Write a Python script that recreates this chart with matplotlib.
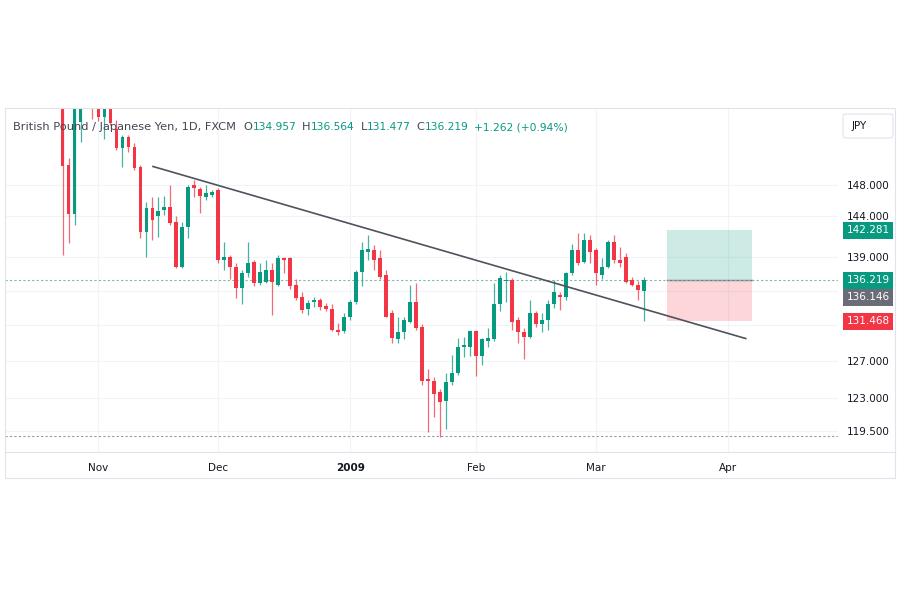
import matplotlib
matplotlib.use("Agg")
import matplotlib.pyplot as plt
from matplotlib.patches import Rectangle, FancyBboxPatch
from matplotlib.ticker import FixedLocator, FixedFormatter, NullLocator
import pandas as pd

# GBPJPY daily candles, 24 Oct 2008 .. 12 Mar 2009
opens = [160.0, 150.6, 144.3, 156.4, 161.0, 162.5, 159.0, 157.0, 159.0, 155.4,
         152.8, 154.3, 153.0, 150.3, 142.1, 145.1, 144.0, 144.8, 145.2, 143.3,
         137.8, 142.7, 148.0, 147.5, 146.5, 146.7, 147.3, 138.7, 139.0, 137.8,
         135.3, 137.1, 138.4, 135.9, 136.0, 137.5, 135.7, 138.9, 138.9, 135.7,
         134.3, 132.9, 133.7, 133.9, 133.2, 132.9, 130.5, 130.3, 132.0, 133.7,
         137.2, 139.6, 139.9, 138.9, 136.9, 132.4, 129.4, 130.2, 131.4, 133.7,
         130.8, 125.0, 124.8, 123.6, 122.6, 124.7, 125.7, 128.6, 128.6, 130.3,
         127.5, 129.2, 129.4, 133.4, 136.1, 136.3, 131.6, 130.2, 129.7, 132.4,
         131.1, 131.6, 133.4, 134.5, 134.3, 137.1, 139.9, 138.4, 141.1, 139.9,
         136.9, 137.8, 140.9, 138.6, 139.0, 136.3, 135.7, 134.957]
highs = [161.5, 151.5, 160.5, 162.0, 164.0, 163.5, 160.0, 160.0, 160.0, 156.6,
         154.6, 154.6, 153.5, 150.6, 145.8, 146.5, 146.5, 146.6, 148.0, 144.0,
         143.3, 148.0, 148.6, 147.7, 148.0, 147.4, 147.6, 140.9, 139.3, 138.3,
         137.5, 140.9, 138.7, 138.3, 138.7, 138.3, 139.3, 139.0, 139.0, 136.4,
         134.9, 133.9, 134.3, 134.2, 133.6, 133.4, 131.3, 132.4, 133.9, 137.5,
         140.9, 141.7, 140.5, 139.9, 137.5, 132.8, 132.0, 132.0, 135.7, 135.9,
         131.1, 126.1, 125.2, 123.9, 125.7, 127.7, 129.6, 129.7, 130.5, 130.5,
         129.6, 130.7, 135.9, 136.9, 137.2, 136.5, 131.9, 130.7, 133.9, 132.6,
         132.4, 133.9, 136.3, 134.9, 137.2, 140.6, 141.9, 141.9, 141.7, 140.1,
         138.9, 141.1, 141.7, 140.2, 139.5, 136.6, 136.1, 136.564]
lows = [139.3, 140.7, 143.0, 153.6, 159.0, 156.8, 156.5, 154.1, 155.9, 152.6,
        150.3, 152.3, 149.9, 141.3, 139.0, 141.1, 141.5, 144.2, 143.0, 137.7,
        137.7, 141.3, 146.5, 144.4, 146.1, 146.5, 138.3, 137.5, 136.4, 134.2,
        133.4, 136.6, 135.5, 135.7, 135.9, 132.2, 135.5, 137.1, 135.2, 133.9,
        132.4, 132.2, 133.1, 132.8, 132.6, 130.3, 129.9, 130.1, 131.6, 133.4,
        135.5, 138.7, 137.5, 136.4, 131.9, 129.0, 129.0, 129.4, 131.3, 130.5,
        124.4, 119.4, 121.0, 118.9, 119.7, 124.4, 125.5, 127.4, 127.5, 125.3,
        126.6, 128.6, 129.2, 132.6, 133.7, 130.5, 129.0, 127.2, 129.6, 130.8,
        130.2, 130.5, 133.0, 132.8, 133.9, 136.9, 138.1, 138.3, 138.3, 135.7,
        136.4, 137.7, 138.3, 137.8, 135.9, 135.5, 133.9, 131.477]
closes = [150.5, 144.3, 159.5, 160.8, 162.5, 159.2, 157.0, 159.0, 156.2, 152.8,
          154.3, 153.0, 150.2, 142.1, 145.1, 143.6, 144.7, 145.2, 143.2, 137.8,
          142.7, 147.7, 147.6, 146.6, 147.0, 147.1, 138.7, 139.0, 137.8, 135.3,
          137.1, 138.3, 135.9, 137.2, 137.5, 136.0, 138.9, 138.6, 135.5, 134.2,
          132.8, 133.6, 133.9, 133.1, 132.9, 130.5, 130.2, 132.0, 133.7, 137.2,
          139.9, 140.0, 138.7, 136.6, 132.0, 129.6, 130.2, 131.6, 133.7, 130.7,
          124.8, 124.8, 123.4, 122.5, 124.7, 125.7, 128.6, 128.8, 130.3, 127.5,
          129.4, 129.6, 133.4, 136.5, 136.3, 131.4, 130.2, 129.7, 132.4, 131.1,
          131.6, 133.4, 134.8, 134.3, 137.1, 139.9, 138.3, 141.1, 139.6, 137.1,
          137.8, 140.9, 138.7, 138.3, 136.0, 135.7, 135.1, 136.219]

price_ticks = [119.5, 123, 127, 131, 135, 139, 144, 148]
price_tick_labels = ["119.500", "123.000", "127.000", "", "", "139.000", "144.000", "148.000"]
month_names = ["Nov", "Dec", "2009", "Feb", "Mar", "Apr"]

# trend line and long position tool
trend_bars = [15.1, 114.0]
trend_prices = [150.4, 129.5]
pos_bars = [100.9, 115.1]
take_profit, entry, stop_loss = 142.281, 136.219, 131.468
lower_line = 119.0

GREEN = "#089981"
RED = "#f23645"
TEXT = "#131722"
GRID = "#f0f3fa"

days = pd.bdate_range("2008-10-24", "2009-04-30")
days = days[~days.isin(pd.to_datetime(["2008-12-25", "2009-01-01"]))]
month_pos = []
for m in ["2008-11", "2008-12", "2009-01", "2009-02", "2009-03", "2009-04"]:
    month_pos.append(int((days.strftime("%Y-%m") == m).argmax()))

plt.rcParams["font.family"] = ["DejaVu Sans"]
fig = plt.figure(figsize=(9, 6), dpi=100)
ax = fig.add_axes([5 / 900, 1 - 452 / 600, 833 / 900, 344 / 600])
ax.set_yscale("log")
ax.set_xlim(-9.6, 129.4)
ax.set_ylim(117.33, 158.25)

for i in range(len(opens)):
    o, h, l, c = opens[i], highs[i], lows[i], closes[i]
    col = GREEN if c >= o else RED
    ax.vlines(i, l, h, color=col, lw=0.9, alpha=0.75, zorder=3)
    ax.bar(i, max(abs(c - o), 0.12), bottom=min(o, c), width=0.64, color=col, lw=0, zorder=4)

# grid
for p in price_ticks:
    ax.axhline(p, color=GRID, lw=0.8, zorder=0)
for m in month_pos:
    ax.axvline(m, color=GRID, lw=0.8, zorder=0)

# position tool
ax.fill_between(pos_bars, entry, take_profit, color=GREEN, alpha=0.2, lw=0, zorder=1)
ax.fill_between(pos_bars, stop_loss, entry, color=RED, alpha=0.2, lw=0, zorder=1)
ax.plot(pos_bars, [entry, entry], color="#787b86", lw=1.0, zorder=2)

ax.axhline(entry, color="#7fb8b0", lw=0.8, ls=(0, (2, 2)), zorder=2)
ax.axhline(lower_line, color="#9598a1", lw=0.8, ls=(0, (2, 2)), zorder=2)

ax.plot(trend_bars, trend_prices, color="#50535e", lw=1.2, zorder=5)

# axes
for s in ax.spines.values():
    s.set_visible(False)
ax.yaxis.tick_right()
ax.yaxis.set_major_locator(FixedLocator(price_ticks))
ax.yaxis.set_major_formatter(FixedFormatter(price_tick_labels))
ax.yaxis.set_minor_locator(NullLocator())
ax.tick_params(axis="y", length=0, pad=6, labelsize=7.5, labelcolor=TEXT)
ax.set_xticks(month_pos)
ax.set_xticklabels(month_names)
ax.tick_params(axis="x", length=0, pad=8, labelsize=7.5, labelcolor=TEXT)
for lbl in ax.get_xticklabels():
    if lbl.get_text() == "2009":
        lbl.set_fontweight("bold")

# price axis labels
def price_box(price, text, color, dy=0):
    ax.annotate(text, xy=(1, price), xycoords=("axes fraction", "data"),
                xytext=(30, dy), textcoords="offset pixels", ha="center", va="center",
                fontsize=7.5, color="white", annotation_clip=False,
                bbox=dict(boxstyle="square,pad=0.35", fc=color, ec="none"))

price_box(take_profit, "142.281", GREEN)
price_box(entry, "136.219", GREEN)
price_box(entry, "136.146", "#6a6d78", dy=-17)
price_box(stop_loss, "131.468", RED)

# frame and time axis separator
fig.add_artist(Rectangle((5 / 900, 1 - 478 / 600), 890 / 900, 370 / 600, transform=fig.transFigure,
                         fill=False, ec="#e0e3eb", lw=0.8))
fig.add_artist(plt.Line2D([5 / 900, 895 / 900], [1 - 452 / 600] * 2, transform=fig.transFigure,
                          color="#e0e3eb", lw=0.8))
fig.add_artist(FancyBboxPatch((843 / 900, 1 - 138 / 600), 50 / 900, 24 / 600, transform=fig.transFigure,
                              boxstyle="round,pad=0,rounding_size=0.004", fc="white", ec="#e0e3eb", lw=0.8))
fig.text(852 / 900, 1 - 126 / 600, "JPY", fontsize=7.5, color=TEXT, va="center")

# legend line, pieces laid out one after another
ty = 1 - 127 / 600
renderer = fig.canvas.get_renderer()
pieces = [("British Pound / Japanese Yen, 1D, FXCM", "#434651", 0, 8.2),
          ("O", "#434651", 7, 8.2), ("134.957", GREEN, 0, 7.7),
          ("H", "#434651", 5, 8.2), ("136.564", GREEN, 0, 7.7),
          ("L", "#434651", 5, 8.2), ("131.477", GREEN, 0, 7.7),
          ("C", "#434651", 5, 8.2), ("136.219", GREEN, 0, 7.7),
          ("+1.262 (+0.94%)", GREEN, 5, 7.7)]
x = 13
for t, c, gap, fs in pieces:
    x += gap
    txt = fig.text(x / 900, ty, t, fontsize=fs, color=c, va="center")
    x = txt.get_window_extent(renderer).x1 + 0.5

fig.savefig("out.png", dpi=100, facecolor="white")
